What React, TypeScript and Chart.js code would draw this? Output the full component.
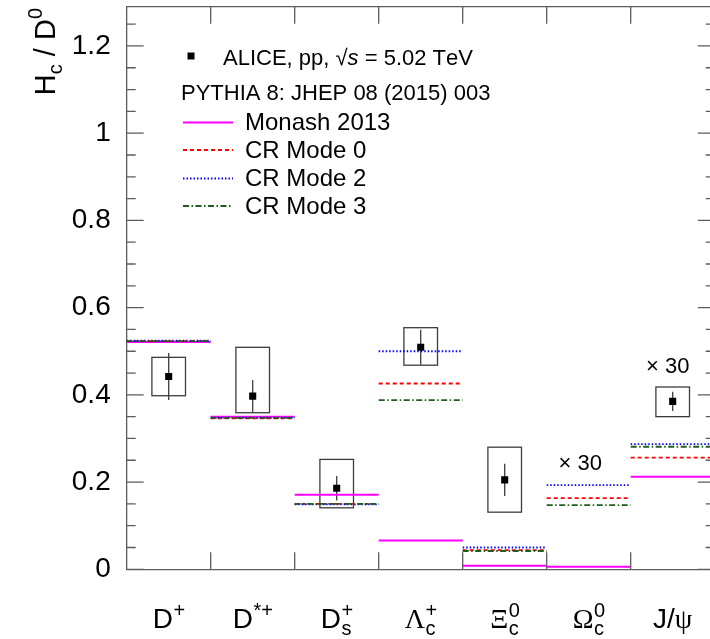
import { useEffect, useRef } from 'react';
import { Chart, registerables } from 'chart.js';

Chart.register(...registerables);

const SANS = '"Liberation Sans", Arial, Helvetica, sans-serif';
const SERIF = '"Liberation Serif", "Times New Roman", serif';
const AXIS_COLOR = '#5c5c5c';

// Hadron species, one bin each (base symbol, superscript, subscript)
const speciesBase = ['D', 'D', 'D', 'Λ', 'Ξ', 'Ω', 'J/ψ'];
const speciesSup = ['+', '*+', '+', '+', '0', '0', ''];
const speciesSub = ['', '', 's', 'c', 'c', 'c', ''];

// Measured H_c / D0 ratios (the Ωc0 and J/ψ bins are shown multiplied by 30)
const aliceRatio = [0.442, 0.397, 0.186, 0.509, 0.205, null, 0.385];
const aliceStat = [0.054, 0.037, 0.028, 0.04, 0.037, null, 0.022];
const aliceSystUp = [0.044, 0.112, 0.066, 0.045, 0.075, null, 0.033];
const aliceSystDown = [0.044, 0.038, 0.045, 0.041, 0.074, null, 0.035];

// PYTHIA 8 predictions per bin
const monash2013 = [0.521, 0.35, 0.171, 0.066, 0.008, 0.006, 0.212];
const crMode0 = [0.523, 0.346, 0.15, 0.426, 0.044, 0.163, 0.256];
const crMode2 = [0.524, 0.348, 0.149, 0.5, 0.05, 0.193, 0.287];
const crMode3 = [0.523, 0.347, 0.15, 0.388, 0.042, 0.147, 0.281];

// y axis
const yMajorTicks = [0, 0.2, 0.4, 0.6, 0.8, 1, 1.2];
const yMinorStep = 0.05;
const yMax = 1.29;

// "× 30" notes above the scaled bins (bin coordinate, value of baseline)
const scaleNoteText = '× 30';
const scaleNoteBins = [5.4, 6.44];
const scaleNoteValues = [0.228, 0.45];

const BOX_HALF = 0.2;

const isGreek = (ch: string) => /[\u0370-\u03ff]/.test(ch);
const fontFor = (ch: string, size: number, italic = false) =>
  `${italic ? 'italic ' : ''}${size}px ${isGreek(ch) ? SERIF : SANS}`;

function measureRun(ctx: CanvasRenderingContext2D, text: string, size: number, italic = false) {
  let w = 0;
  for (const ch of text) {
    ctx.font = fontFor(ch, size, italic);
    w += ctx.measureText(ch).width;
  }
  return w;
}

function fillRun(ctx: CanvasRenderingContext2D, text: string, x: number, y: number, size: number, italic = false) {
  for (const ch of text) {
    ctx.font = fontFor(ch, size, italic);
    ctx.fillText(ch, x, y);
    x += ctx.measureText(ch).width;
  }
  return x;
}

function binSteps(values: number[]) {
  const pts: { x: number; y: number | null }[] = [];
  values.forEach((v, i) => {
    pts.push({ x: i, y: v }, { x: i + 1, y: v }, { x: i + 1, y: null });
  });
  return pts;
}

const rootStylePlugin = {
  id: 'rootStyle',
  beforeDatasetsDraw(chart: any) {
    const { ctx, scales } = chart;
    const x = scales.x;
    const y = scales.y;
    ctx.save();
    ctx.strokeStyle = '#3c3c3c';
    ctx.lineWidth = 1.3;
    aliceRatio.forEach((v, i) => {
      if (v == null) return;
      const xl = x.getPixelForValue(i + 0.5 - BOX_HALF);
      const xr = x.getPixelForValue(i + 0.5 + BOX_HALF);
      const yt = y.getPixelForValue(v + (aliceSystUp[i] as number));
      const yb = y.getPixelForValue(v - (aliceSystDown[i] as number));
      ctx.strokeRect(xl, yt, xr - xl, yb - yt);
      const cx = x.getPixelForValue(i + 0.5);
      ctx.beginPath();
      ctx.moveTo(cx, y.getPixelForValue(v + (aliceStat[i] as number)));
      ctx.lineTo(cx, y.getPixelForValue(v - (aliceStat[i] as number)));
      ctx.stroke();
    });
    ctx.restore();
  },
  afterDraw(chart: any) {
    const { ctx, chartArea, scales } = chart;
    const x = scales.x;
    const y = scales.y;
    const { left, right, top, bottom } = chartArea;
    ctx.save();

    // frame (top and right edges)
    ctx.strokeStyle = AXIS_COLOR;
    ctx.lineWidth = 1.3;
    ctx.beginPath();
    ctx.moveTo(left, top);
    ctx.lineTo(right, top);
    ctx.lineTo(right, bottom);
    ctx.stroke();

    // inward tick marks
    ctx.beginPath();
    for (let k = 0; k * yMinorStep <= yMax; k++) {
      const v = k * yMinorStep;
      const major = yMajorTicks.some((t) => Math.abs(t - v) < 1e-6);
      const len = major ? 17 : 9;
      const py = y.getPixelForValue(v);
      ctx.moveTo(left, py);
      ctx.lineTo(left + len, py);
      ctx.moveTo(right, py);
      ctx.lineTo(right - len, py);
    }
    for (let b = 1; b < speciesBase.length; b++) {
      const px = x.getPixelForValue(b);
      ctx.moveTo(px, bottom);
      ctx.lineTo(px, bottom - 17);
      ctx.moveTo(px, top);
      ctx.lineTo(px, top + 17);
    }
    ctx.stroke();

    ctx.fillStyle = '#000';
    ctx.textAlign = 'left';
    ctx.textBaseline = 'alphabetic';

    // species labels under each bin
    speciesBase.forEach((base, i) => {
      const cx = x.getPixelForValue(i + 0.5);
      const bw = measureRun(ctx, base, 28);
      const sw = Math.max(measureRun(ctx, speciesSup[i], 20), measureRun(ctx, speciesSub[i], 20));
      const x0 = cx - (bw + sw) / 2;
      const baseline = bottom + 59;
      fillRun(ctx, base, x0, baseline, 28);
      if (speciesSup[i]) fillRun(ctx, speciesSup[i], x0 + bw + 0.5, baseline - 11.5, 20);
      if (speciesSub[i]) fillRun(ctx, speciesSub[i], x0 + bw + 0.5, baseline + 7, 20);
    });

    // y axis title  H_c / D^0, rotated, ending at the top of the frame
    {
      const runs = [
        { t: 'H', s: 29, dy: 0 },
        { t: 'c', s: 20, dy: 7 },
        { t: ' / ', s: 29, dy: 0 },
        { t: 'D', s: 29, dy: 0 },
        { t: '0', s: 20, dy: -13 },
      ];
      const W = runs.reduce((a, r) => a + measureRun(ctx, r.t, r.s), 0);
      ctx.save();
      ctx.translate(55, 8);
      ctx.rotate(-Math.PI / 2);
      let cx = -W;
      runs.forEach((r) => {
        cx = fillRun(ctx, r.t, cx, r.dy, r.s);
      });
      ctx.restore();
    }

    // "× 30" notes
    scaleNoteBins.forEach((b, k) => {
      ctx.font = `22px ${SANS}`;
      ctx.textAlign = 'center';
      ctx.fillText(scaleNoteText, x.getPixelForValue(b), y.getPixelForValue(scaleNoteValues[k]));
    });
    ctx.textAlign = 'left';

    // legend
    const ds = chart.data.datasets;
    ctx.fillStyle = '#000';
    ctx.fillRect(187.5, 52.5, 7, 7);
    {
      let tx = 223;
      const by = 65;
      tx = fillRun(ctx, 'ALICE, pp, √', tx, by, 22);
      tx = fillRun(ctx, 's', tx, by, 22, true);
      fillRun(ctx, ' = 5.02 TeV', tx, by, 22);
      fillRun(ctx, 'PYTHIA 8: JHEP 08 (2015) 003', 181, 100, 22);
    }
    const rowLine = [122.5, 150, 178.5, 206];
    ds.slice(1).forEach((d: any, k: number) => {
      ctx.save();
      ctx.strokeStyle = d.borderColor;
      ctx.lineWidth = d.borderWidth;
      ctx.setLineDash(d.borderDash || []);
      ctx.beginPath();
      ctx.moveTo(183, rowLine[k]);
      ctx.lineTo(233, rowLine[k]);
      ctx.stroke();
      ctx.restore();
      ctx.fillStyle = '#000';
      fillRun(ctx, d.label, 245, rowLine[k] + 7.8, 24);
    });

    ctx.restore();
  },
};

export default function App() {
  const ref = useRef<HTMLCanvasElement>(null);

  useEffect(() => {
    const canvas = ref.current;
    if (!canvas) return;
    const chart = new Chart(canvas, {
      type: 'scatter',
      data: {
        datasets: [
          {
            label: 'ALICE, pp, √s = 5.02 TeV',
            data: aliceRatio.map((v, i) => ({ x: i + 0.5, y: v })),
            pointStyle: 'rect',
            pointRadius: 5,
            pointBackgroundColor: '#000',
            pointBorderWidth: 0,
            backgroundColor: '#000',
            borderColor: '#000',
            showLine: false,
            order: 0,
          },
          {
            label: 'Monash 2013',
            data: binSteps(monash2013),
            showLine: true,
            borderColor: '#ff00ff',
            borderWidth: 2,
            pointRadius: 0,
            spanGaps: false,
            order: 4,
          },
          {
            label: 'CR Mode 0',
            data: binSteps(crMode0),
            showLine: true,
            borderColor: '#ff0000',
            borderWidth: 1.8,
            borderDash: [4, 3],
            pointRadius: 0,
            spanGaps: false,
            order: 3,
          },
          {
            label: 'CR Mode 2',
            data: binSteps(crMode2),
            showLine: true,
            borderColor: '#0000ff',
            borderWidth: 1.8,
            borderDash: [1.5, 2],
            pointRadius: 0,
            spanGaps: false,
            order: 2,
          },
          {
            label: 'CR Mode 3',
            data: binSteps(crMode3),
            showLine: true,
            borderColor: '#1e5e1e',
            borderWidth: 1.8,
            borderDash: [6, 2.5, 1.5, 2.5],
            pointRadius: 0,
            spanGaps: false,
            order: 1,
          },
        ] as any,
      },
      options: {
        animation: false,
        responsive: false,
        devicePixelRatio: 1,
        events: [],
        layout: { padding: { left: 0, top: 6.7, right: 15.3, bottom: 0 } },
        plugins: { legend: { display: false }, tooltip: { enabled: false } },
        scales: {
          x: {
            type: 'linear',
            position: 'bottom',
            min: 0,
            max: speciesBase.length,
            grid: { display: false, drawTicks: false },
            border: { display: true, color: AXIS_COLOR, width: 1.3 },
            ticks: { display: false },
            afterFit: (s: any) => {
              s.height = 69.7;
              s.paddingLeft = 0;
              s.paddingRight = 0;
            },
          },
          y: {
            type: 'linear',
            min: 0,
            max: yMax,
            grid: { display: false, drawTicks: false },
            border: { display: true, color: AXIS_COLOR, width: 1.3 },
            afterBuildTicks: (s: any) => {
              s.ticks = yMajorTicks.map((value) => ({ value }));
            },
            ticks: {
              padding: 16,
              color: '#000',
              font: { family: SANS, size: 28 },
              callback: (v: any) => String(Number(Number(v).toFixed(2))),
            },
            afterFit: (s: any) => {
              s.width = 126.7;
              s.paddingTop = 0;
              s.paddingBottom = 0;
            },
          },
        } as any,
      },
      plugins: [rootStylePlugin as any],
    });
    return () => chart.destroy();
  }, []);

  return (
    <div
      style={{
        position: 'fixed',
        left: 0,
        top: 0,
        width: 710,
        height: 639,
        overflow: 'hidden',
        background: '#fff',
      }}
    >
      <canvas ref={ref} width={730} height={639} style={{ display: 'block', width: 730, height: 639 }} />
    </div>
  );
}
